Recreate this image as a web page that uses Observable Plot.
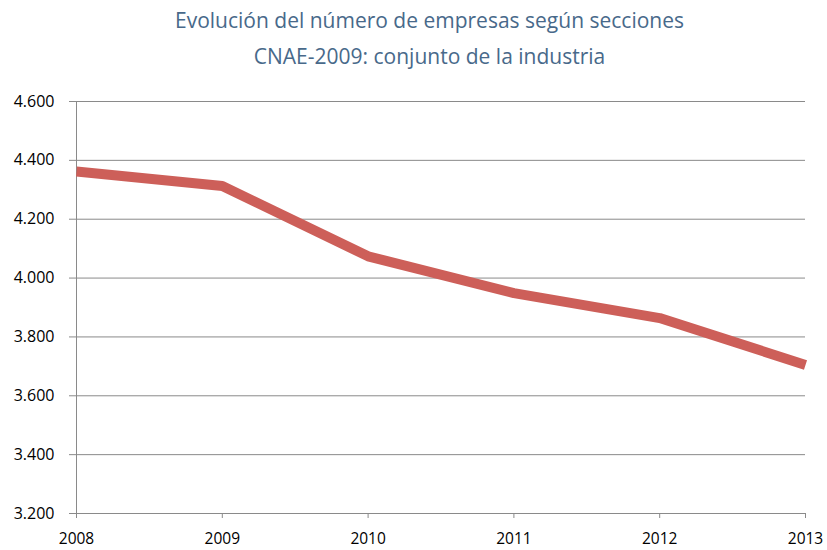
<!DOCTYPE html>
<html>
<head>
<meta charset="utf-8">
<script src="https://cdn.jsdelivr.net/npm/d3@7"></script>
<script src="https://cdn.jsdelivr.net/npm/@observablehq/plot@0.6"></script>
<style>
  html, body { margin: 0; padding: 0; background: #fff; }
  #title { height: 85px; box-sizing: border-box; padding-top: 2px; text-align: center;
    font-family: "Open Sans", "Noto Sans", sans-serif; font-weight: 400; font-size: 21px;
    color: #48698a; line-height: 36px; padding-left: 32px; }
</style>
</head>
<body>
<div id="title"><div>Evolución del número de empresas según secciones</div><div>CNAE-2009: conjunto de la industria</div></div>
<div id="chart"></div>
<script>
const years = [2008, 2009, 2010, 2011, 2012, 2013];
const empresas = [4362, 4313, 4074, 3949, 3864, 3705];
const yTicks = [3200, 3400, 3600, 3800, 4000, 4200, 4400, 4600];

const data = years.map((y, i) => ({year: y, value: empresas[i]}));
const fmt = d3.formatLocale({decimal: ",", thousands: ".", grouping: [3], currency: ["", "€"]}).format(",.0f");
const grid = "#8a8a8a";

const chart = Plot.plot({
  width: 827,
  height: 465,
  marginTop: 16,
  marginBottom: 37,
  marginLeft: 76,
  marginRight: 22,
  style: {fontFamily: "'Open Sans', 'Noto Sans', sans-serif", fontSize: "16px", color: "#000", background: "#fff", overflow: "visible"},
  x: {domain: [2008, 2013], label: null},
  y: {domain: [3200, 4600], label: null},
  marks: [
    Plot.gridY(yTicks, {stroke: grid, strokeOpacity: 1, strokeWidth: 1}),
    Plot.axisY(yTicks, {tickFormat: fmt, tickSize: 7, tickPadding: 15, stroke: grid, fill: "#000", fontSize: 16}),
    Plot.axisX(years, {tickFormat: d => String(d), tickSize: 5, tickPadding: 14, stroke: grid, fill: "#000", fontSize: 15.5}),
    Plot.ruleX([2008], {stroke: grid, strokeWidth: 1}),
    Plot.ruleY([3200], {stroke: grid, strokeWidth: 1}),
    Plot.line(data, {x: "year", y: "value", stroke: "#cd5f59", strokeWidth: 10, strokeLinecap: "butt", strokeLinejoin: "round"})
  ]
});
document.getElementById("chart").appendChild(chart);
</script>
</body>
</html>
